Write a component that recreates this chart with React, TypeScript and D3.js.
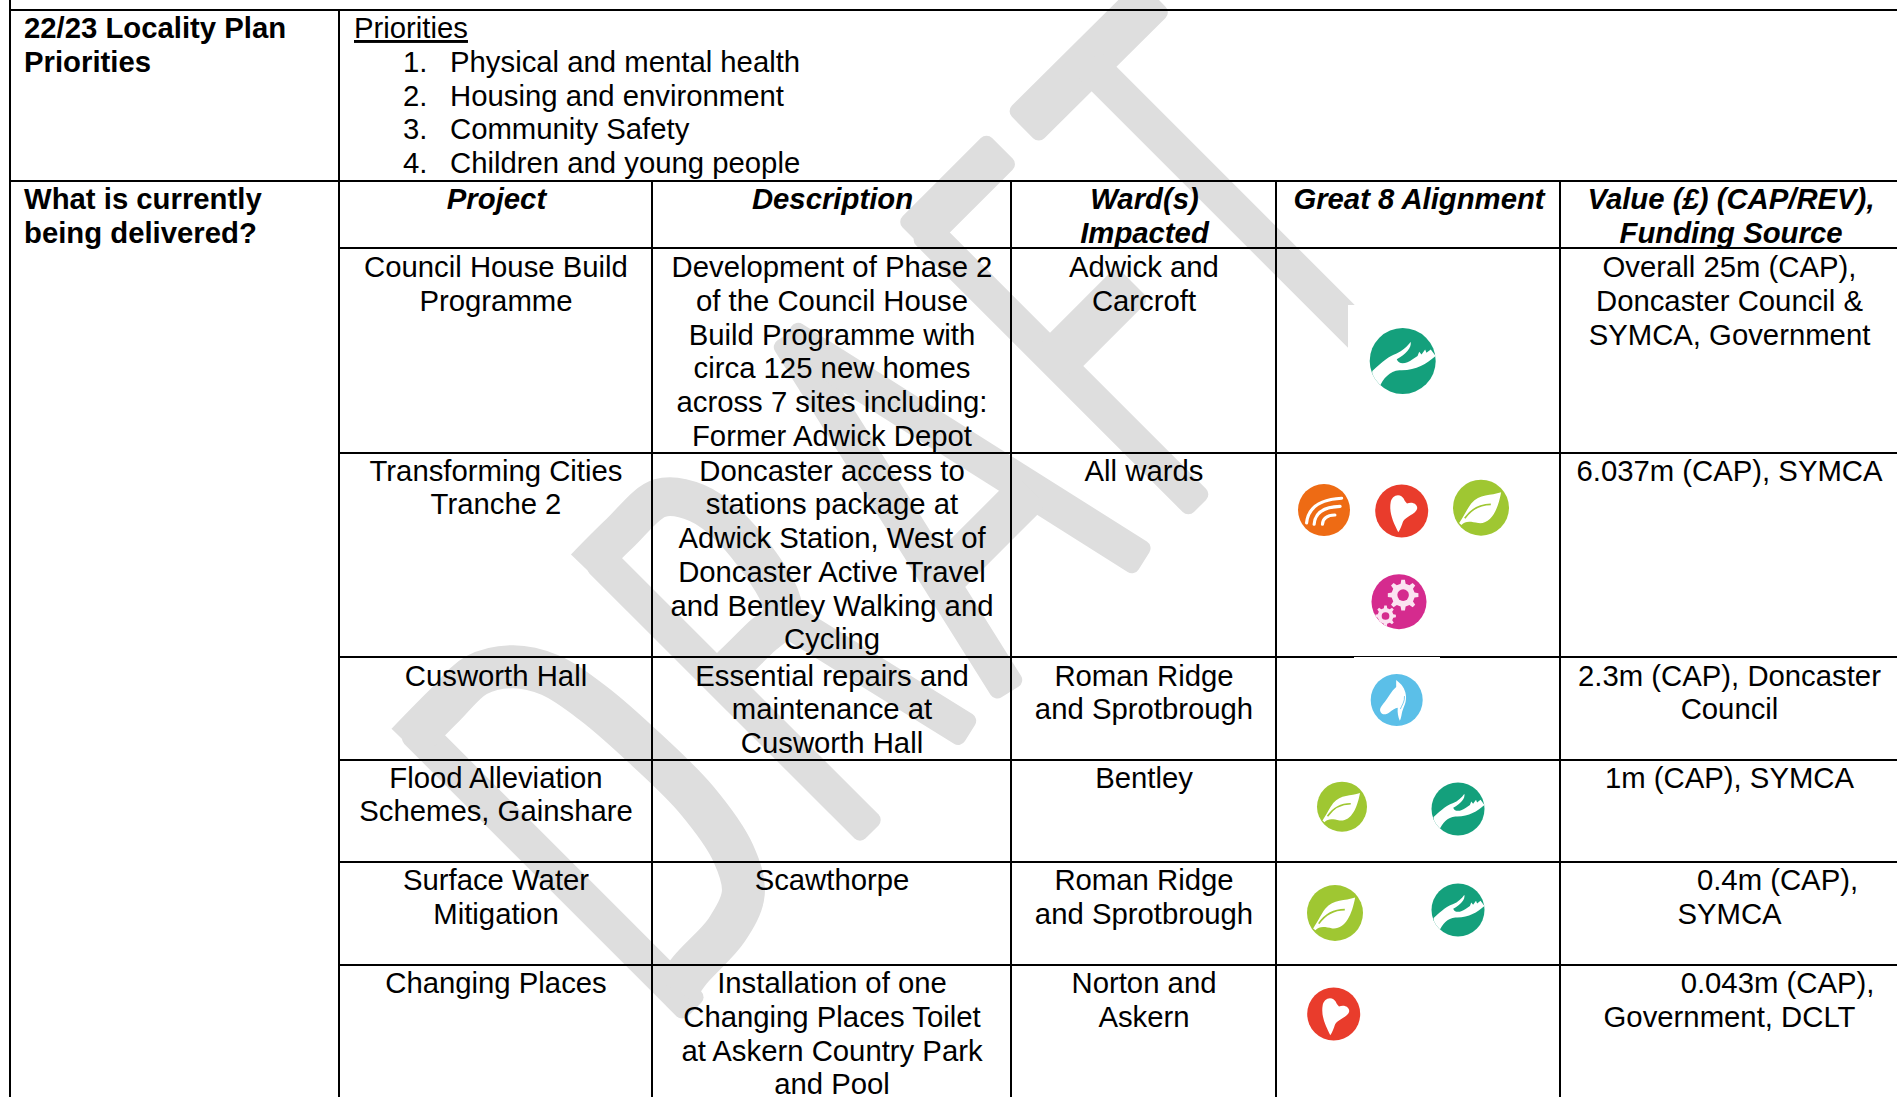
import React from "react";
import * as d3 from "d3";

// ---------- table content ----------
const columnNames = ["project", "description", "wards", "great8", "value"];
const headerLabels = [["Project"], ["Description"], ["Ward(s)", "Impacted"], ["Great 8 Alignment"], ["Value (£) (CAP/REV),", "Funding Source"]];
const sideLabels = [["22/23 Locality Plan", "Priorities"], ["What is currently", "being delivered?"]];
const prioritiesTitle = "Priorities";
const priorities = ["Physical and mental health", "Housing and environment", "Community Safety", "Children and young people"];

const rowNames = ["council", "cities", "cusworth", "flood", "surface", "changing"];
const projects = [
  ["Council House Build", "Programme"],
  ["Transforming Cities", "Tranche 2"],
  ["Cusworth Hall"],
  ["Flood Alleviation", "Schemes, Gainshare"],
  ["Surface Water", "Mitigation"],
  ["Changing Places"],
];
const descriptions = [
  ["Development of Phase 2", "of the Council House", "Build Programme with", "circa 125 new homes", "across 7 sites including:", "Former Adwick Depot"],
  ["Doncaster access to", "stations package at", "Adwick Station, West of", "Doncaster Active Travel", "and Bentley Walking and", "Cycling"],
  ["Essential repairs and", "maintenance at", "Cusworth Hall"],
  [],
  ["Scawthorpe"],
  ["Installation of one", "Changing Places Toilet", "at Askern Country Park", "and Pool"],
];
const wards = [
  ["Adwick and", "Carcroft"],
  ["All wards"],
  ["Roman Ridge", "and Sprotbrough"],
  ["Bentley"],
  ["Roman Ridge", "and Sprotbrough"],
  ["Norton and", "Askern"],
];
const values = [
  ["Overall 25m (CAP),", "Doncaster Council &", "SYMCA, Government"],
  ["6.037m (CAP), SYMCA"],
  ["2.3m (CAP), Doncaster", "Council"],
  ["1m (CAP), SYMCA"],
  ["0.4m (CAP),", "SYMCA"],
  ["0.043m (CAP),", "Government, DCLT"],
];
// values whose first line sits off-centre in the source (leading spaces)
const valueFirstLineShifted = [false, false, false, false, true, true];
const great8Icons = [["hand"], ["wifi", "heart", "leaf", "gears"], ["horse"], ["leaf", "hand"], ["leaf", "hand"], ["heart"]];

// ---------- layout ----------
const W = 1897, H = 1097;
const columnEdges = [339, 652, 1011, 1276, 1560, 1900];
const rowEdges = [248, 452.7, 657, 760, 862, 965];
const topY = 10, prioritiesBottom = 181, leftX = 10;
const lineGap = 33.75, baselineOffset = 28;
const rowBaselineShift = [1, 0, 0.5, 0, 0, 0];
const rowLineGap = [33.75, 33.75, 33.75, 32.8, 33.75, 33.75];
const fontFamily = "'Liberation Sans', Arial, sans-serif";
const fontSize = 29.3;
const grey = "#dedede";

const colLeft = d3.scaleOrdinal(columnNames, columnEdges);
const colRight = d3.scaleOrdinal(columnNames, columnEdges.slice(1));
const colCenter = (c: string) => (colLeft(c) + colRight(c)) / 2;
const rowTop = d3.scaleOrdinal(rowNames, rowEdges);

// icon position within the sheet per row, in reading order
const iconSpots = [
  [[1402.7, 361, 33]],
  [[1324, 510, 26], [1401.7, 511, 26.5], [1481, 507.7, 28], [1399, 601.7, 27.5]],
  [[1396.7, 700, 26]],
  [[1342, 806.7, 25], [1458, 809, 26.5]],
  [[1335, 913, 28], [1458, 910, 26.5]],
  [[1333.7, 1014, 26.5]],
];
const iconColor: Record<string, string> = { hand: "#14a07c", heart: "#e93c2c", leaf: "#9fc732", wifi: "#ee6b14", gears: "#d52b8e", horse: "#5bbfe8" };

// ---------- DRAFT watermark geometry ----------
type P = [number, number];
const wmBars: [P, P, number][] = [
  // D stem
  [[411, 726], [694.5, 1009.5], 35],
  // R stem, leg
  [[596, 556], [872, 832], 34],
  [[765, 606], [970, 733], 35],
  // A legs and crossbar
  [[786, 335], [1010, 692], 36],
  [[786, 335], [1144, 561], 36],
  [[940, 581], [1031, 490], 44],
  // F stem, top arm, middle arm
  [[922, 228], [1200, 506], 33],
  [[912.8, 237.8], [1002.4, 148.3], 45],
  [[1055, 361], [1133, 283], 47],
  // T crossbar, stem
  [[1022.5, 127.5], [1155, -4], 46],
  [[1088, 63], [1400, 375], 35],
];
const wmCurves: [P[], number][] = [
  [[[407, 743.7], [443.3, 706.7], [476.7, 675], [513.3, 666.7], [550, 675], [593.3, 703.3], [646.7, 750], [696.7, 800], [733.3, 853.3], [743.3, 893.3], [726.7, 930], [690, 970], [675.7, 990.7]], 43],
  [[[585, 568], [620, 533], [660, 498], [697, 503], [733, 530], [780, 597], [782, 617], [760, 638], [727, 670], [717, 677]], 39],
];
const curveLine = d3.line().curve(d3.curveCatmullRom.alpha(0.5));

function Bar({ a, b, w }: { a: P; b: P; w: number }) {
  const len = Math.hypot(b[0] - a[0], b[1] - a[1]);
  const ang = (Math.atan2(b[1] - a[1], b[0] - a[0]) * 180) / Math.PI;
  return <rect x={0} y={-w / 2} width={len} height={w} rx={8} fill={grey} transform={`translate(${a[0]},${a[1]}) rotate(${ang})`} />;
}

function Gear({ cx, cy, r, hole, teeth, fill }: { cx: number; cy: number; r: number; hole: number; teeth: number; fill: string }) {
  const pts: P[] = [];
  d3.range(teeth).forEach((i) => {
    const a = (i / teeth) * 2 * Math.PI;
    const s = Math.PI / teeth;
    [[-0.55, 0.76], [-0.3, 1], [0.3, 1], [0.55, 0.76]].forEach(([t, k]) => pts.push([cx + r * k * Math.cos(a + t * s), cy + r * k * Math.sin(a + t * s)]));
  });
  return (
    <g>
      <path d={"M" + pts.map((p) => p.join(",")).join("L") + "Z"} fill="#fbe3f1" />
      <circle cx={cx} cy={cy} r={hole} fill={fill} />
    </g>
  );
}

function Glyph({ kind }: { kind: string }) {
  const c = iconColor[kind];
  if (kind === "hand") return <path fill="#fff" d="M-92,30C-60,0-40,-15-20,-22C0,-30 15,-45 24,-58C28,-40 10,-20-18,-5C-12,12 10,10 30,-5L45,-15L50,-28L57,-20L68,-35L72,-25L85,-35L100,-15C70,10 40,30-10,28C-40,30-60,55-70,78C-85,60-95,45-92,30Z" />;
  if (kind === "heart") return <path fill="#fff" d="M-13,80C-30,45-48,10-42,-30C-38,-62-2,-72 12,-38L20,-28C40,-38 62,-25 58,-8C52,12 15,20 5,40C0,55-5,70-13,80Z" />;
  if (kind === "leaf")
    return (
      <g>
        <path fill="#fff" d="M72,-55C35,-42-5,-50-35,-15C-50,5-58,25-78,55L-70,62C-55,45-35,50-10,55C35,60 60,10 72,-55Z" />
        <path fill="none" stroke={c} strokeWidth={6} d="M-58,38C-35,5 0,-12 35,-12" />
      </g>
    );
  if (kind === "wifi")
    return (
      <g fill="none" stroke="#fff" strokeWidth={12} strokeLinecap="round">
        <path d="M-67,50C-62,0-30,-40 68,-45" />
        <path d="M-38,55C-35,15-5,-12 62,-14" />
        <path d="M-6,55C-5,35 10,20 42,19" />
      </g>
    );
  if (kind === "gears")
    return (
      <g>
        <Gear cx={15} cy={-24} r={56} hole={21} teeth={8} fill={c} />
        <Gear cx={-49} cy={52} r={38} hole={14} teeth={8} fill={c} />
      </g>
    );
  return (
    <g>
      <path fill="#fff" d="M-2,-77L8,-68C22,-58 36,-35 36,-10C36,15 24,30 20,50C18,62 16,72 12,80C6,66 2,50 4,30C-6,32-16,38-26,46C-38,56-56,60-62,46C-68,34-58,22-46,8C-32,-10-20,-35-2,-50Z" />
      <path fill="none" stroke={c} strokeWidth={3} d="M30,-15C32,5 20,20 14,35" />
    </g>
  );
}

function Lines({ x, y, lines, gap = lineGap, anchor = "middle", weight, italic }: { x: number; y: number; lines: string[]; gap?: number; anchor?: string; weight?: string; italic?: boolean }) {
  return (
    <>
      {lines.map((t, i) => (
        <text key={i} x={x} y={y + i * gap} textAnchor={anchor} fontWeight={weight} fontStyle={italic ? "italic" : undefined}>
          {t}
        </text>
      ))}
    </>
  );
}

export default function App() {
  const hLines: [number, number, number][] = [
    [leftX, W, topY],
    [leftX, W, prioritiesBottom],
    ...rowEdges.map((y) => [columnEdges[0], W, y] as [number, number, number]),
  ];
  const vLines: [number, number, number][] = [
    [leftX, 0, H],
    [columnEdges[0], topY, H],
    ...columnEdges.slice(1, 5).map((x) => [x, prioritiesBottom, H] as [number, number, number]),
  ];
  return (
    <svg width={W} height={H} viewBox={`0 0 ${W} ${H}`} style={{ position: "fixed", left: 0, top: 0, display: "block", background: "#fff" }} fontFamily={fontFamily} fontSize={fontSize} fill="#000">
      <defs>
        <clipPath id="unitCircle">
          <circle r={100} />
        </clipPath>
      </defs>
      {/* watermark */}
      <g>
        {wmBars.map(([a, b, w], i) => (
          <Bar key={i} a={a} b={b} w={w} />
        ))}
        {wmCurves.map(([pts, w], i) => (
          <path key={i} d={curveLine(pts) as string} fill="none" stroke={grey} strokeWidth={w} />
        ))}
      </g>
      {/* white backing of the pasted icon image */}
      <rect x={1348} y={305} width={200} height={140} fill="#fff" />

      {/* grid */}
      <g stroke="#000" strokeWidth={2} shapeRendering="crispEdges">
        {hLines.map(([x1, x2, y], i) => (
          <line key={i} x1={x1} x2={x2} y1={y} y2={y} />
        ))}
        {vLines.map(([x, y1, y2], i) => (
          <line key={i} x1={x} x2={x} y1={y1} y2={y2} />
        ))}
      </g>
      <rect x={1354} y={657} width={86} height={3} fill="#fff" />

      {/* side labels */}
      <Lines x={24} y={38} lines={sideLabels[0]} anchor="start" weight="bold" />
      <Lines x={24} y={209} lines={sideLabels[1]} anchor="start" weight="bold" />

      {/* priorities */}
      <text x={354} y={38} textDecoration="underline">{prioritiesTitle}</text>
      {priorities.map((p, i) => (
        <g key={p}>
          <text x={403} y={38 + (i + 1) * lineGap}>{`${i + 1}.`}</text>
          <text x={450} y={38 + (i + 1) * lineGap}>{p}</text>
        </g>
      ))}

      {/* header */}
      {columnNames.map((c, i) => (
        <Lines key={c} x={colCenter(c) + 1} y={209} lines={headerLabels[i]} weight="bold" italic />
      ))}

      {/* body */}
      {rowNames.map((r, i) => {
        const y = rowTop(r) + baselineOffset + rowBaselineShift[i];
        const gap = rowLineGap[i];
        return (
          <g key={r}>
            <Lines x={colCenter("project") + 0.5} y={y} gap={gap} lines={projects[i]} />
            <Lines x={colCenter("description") + 0.5} y={y} gap={gap} lines={descriptions[i]} />
            <Lines x={colCenter("wards") + 0.5} y={y} gap={gap} lines={wards[i]} />
            {values[i].map((t, j) => (
              <text key={j} x={colCenter("value") - 0.5 + (valueFirstLineShifted[i] && j === 0 ? 48 : 0)} y={y + j * gap} textAnchor="middle">
                {t}
              </text>
            ))}
            {great8Icons[i].map((kind, j) => {
              const [cx, cy, rad] = iconSpots[i][j];
              return (
                <g key={j} transform={`translate(${cx},${cy}) scale(${rad / 100})`}>
                  <circle r={100} fill={iconColor[kind]} />
                  <g clipPath="url(#unitCircle)">
                    <Glyph kind={kind} />
                  </g>
                </g>
              );
            })}
          </g>
        );
      })}
    </svg>
  );
}
